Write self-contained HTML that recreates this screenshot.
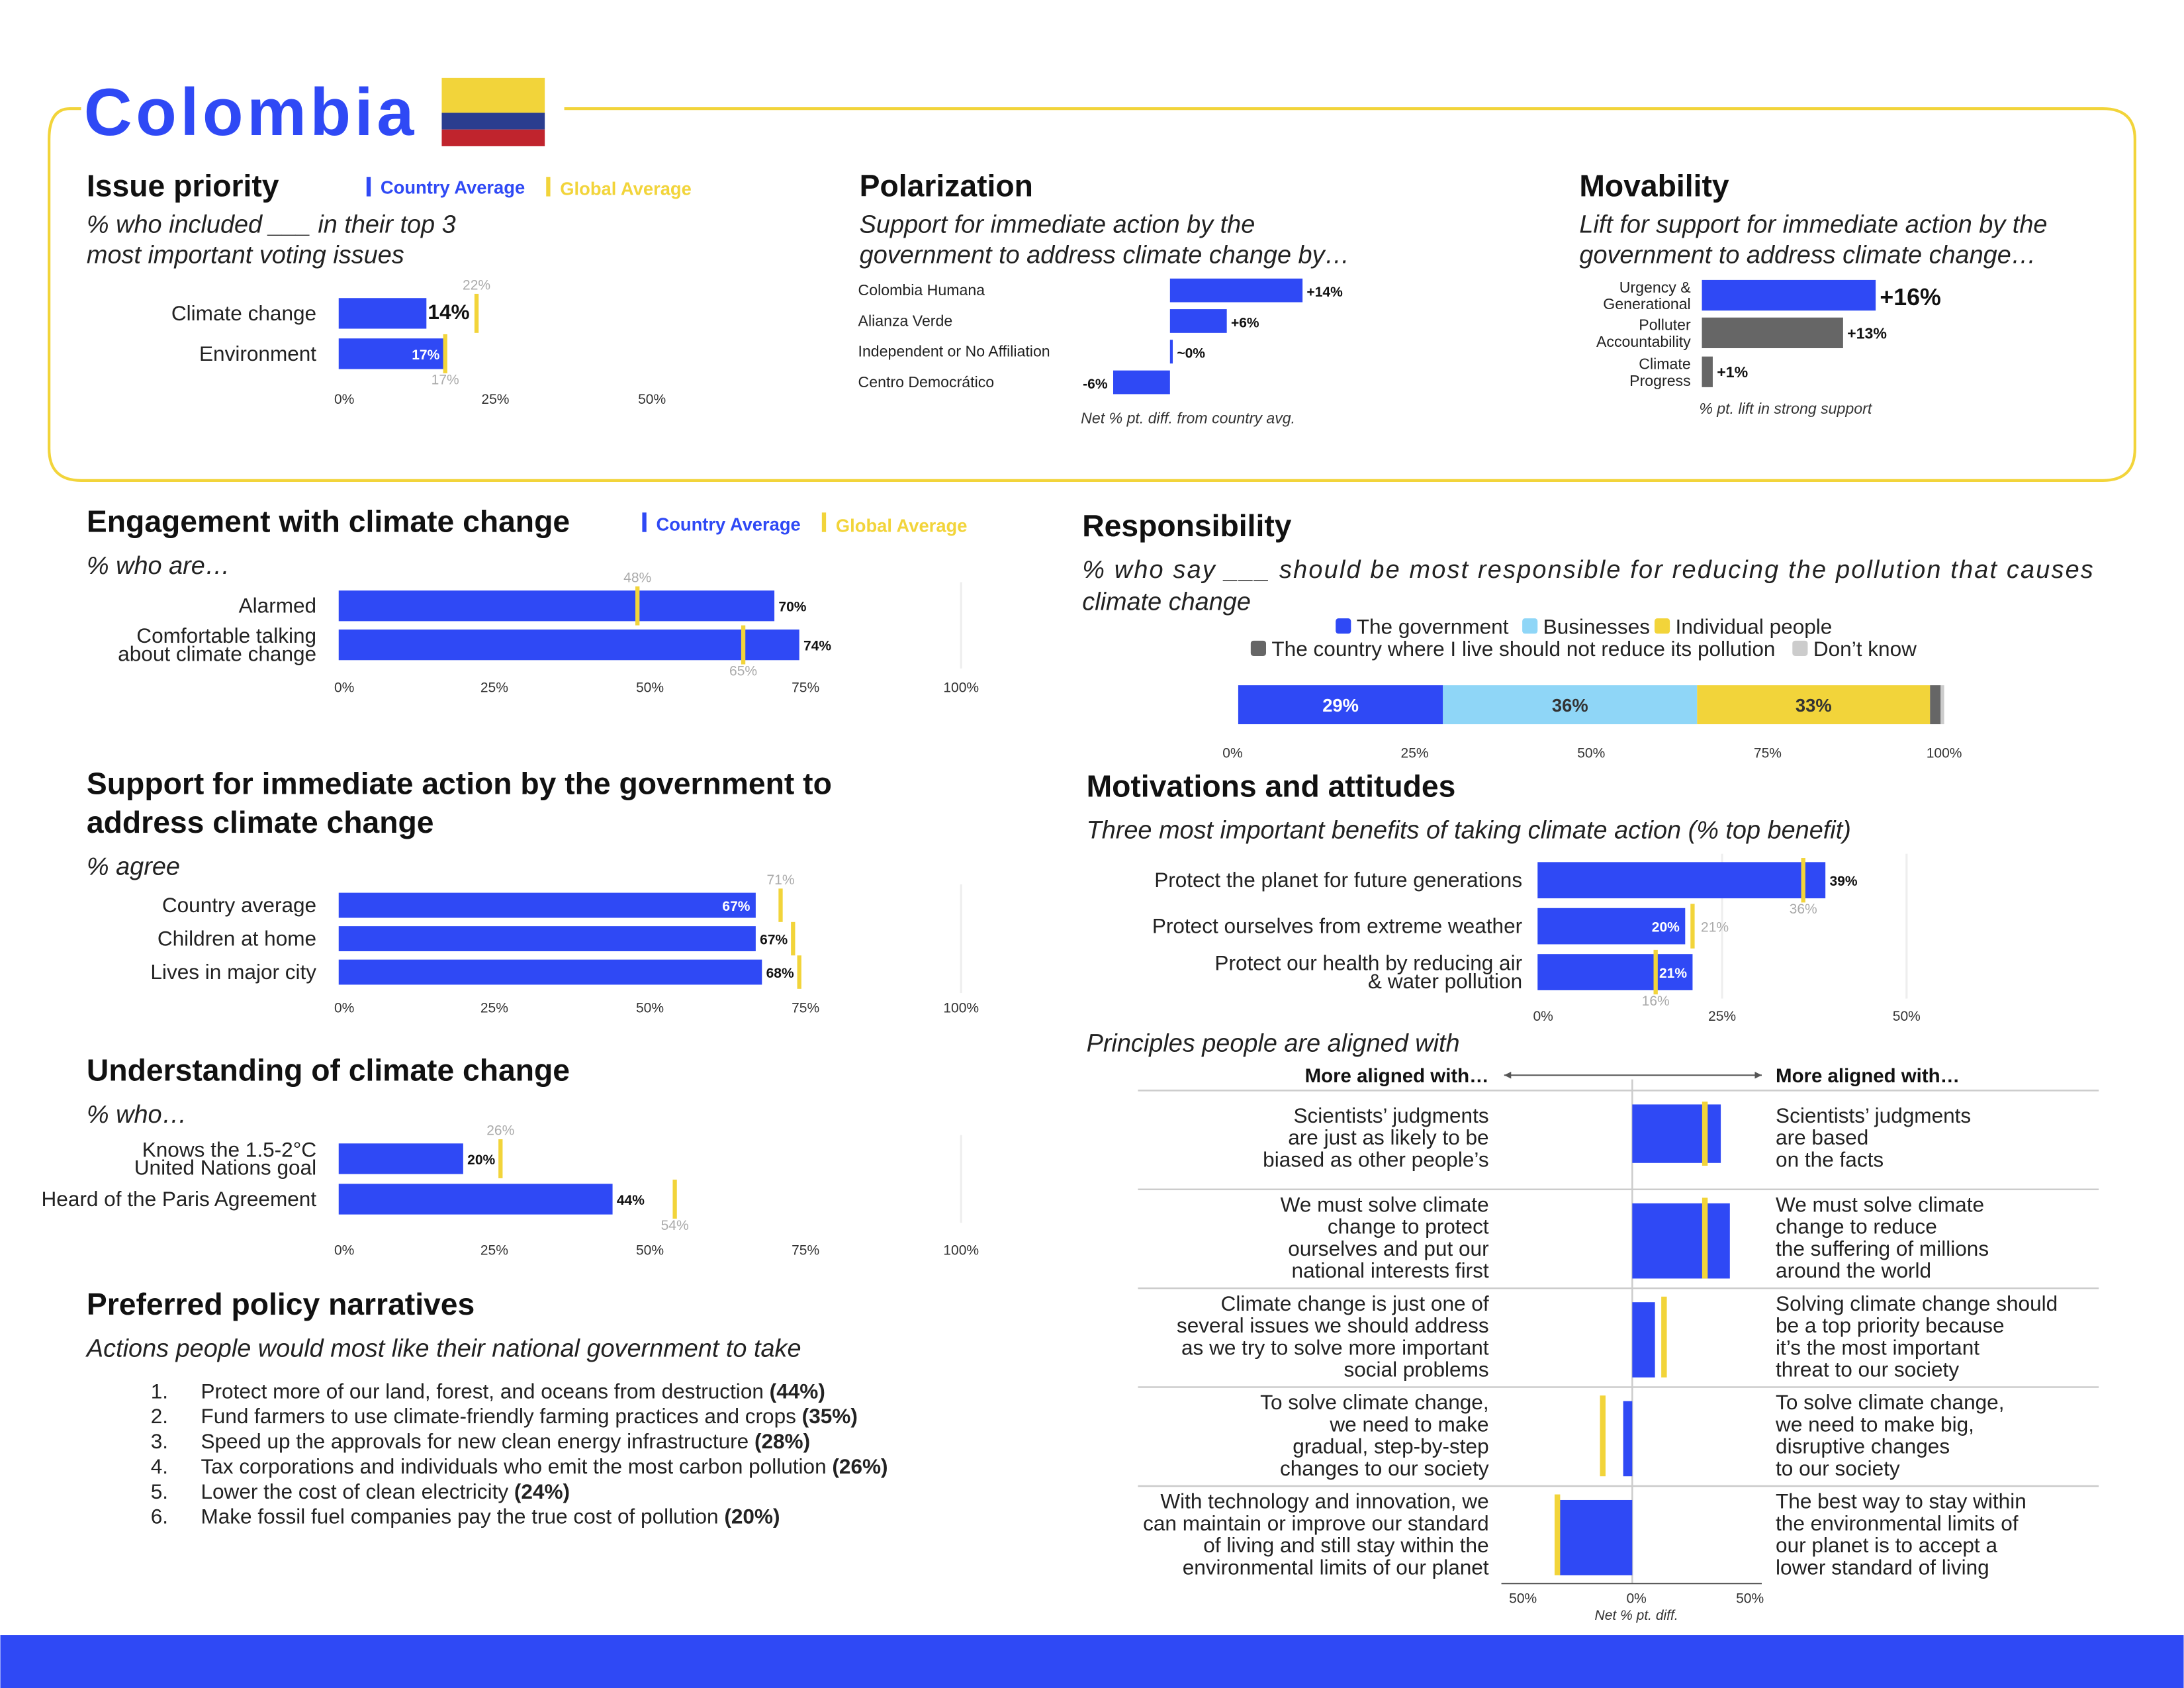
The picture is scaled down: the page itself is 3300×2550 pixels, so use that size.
<!DOCTYPE html>
<html><head><meta charset="utf-8">
<style>
html,body{margin:0;padding:0;background:#fff}
svg{display:block}
text{font-family:"Liberation Sans",sans-serif}
.h{font-weight:bold;font-size:22px;fill:#111}
.s{font-style:italic;font-size:18px;fill:#222}
.l{font-size:15px;fill:#222}
.t{font-size:10px;fill:#333}
.g{font-size:10px;fill:#aaa}
</style></head>
<body>
<svg id="c" width="3300" height="2550" viewBox="0 0 1568 1212" xmlns="http://www.w3.org/2000/svg">
<rect x="0" y="0" width="1568" height="1212" fill="#fff"/>
<path d="M58,78 L50,78 Q35,78 35,100 L35,322 Q35,345 58,345 L1510,345 Q1533,345 1533,322 L1533,100 Q1533,78 1510,78 L405,78" fill="none" stroke="#f2d43a" stroke-width="2"/>
<text x="60" y="97" font-size="48" font-weight="bold" fill="#2f49f5" textLength="237">Colombia</text>
<g><rect x="317" y="56" width="74" height="25" fill="#f2d43a"/><rect x="317" y="81" width="74" height="12" fill="#2a3d8f"/><rect x="317" y="93" width="74" height="12" fill="#c0242d"/></g>

<text class="h" x="62" y="141">Issue priority</text>
<g><rect x="263" y="127" width="3" height="14" fill="#2f49f5"/><text x="273" y="139" font-size="13" font-weight="bold" fill="#2f49f5">Country Average</text><rect x="392" y="127" width="3" height="14" fill="#f2d43a"/><text x="402" y="140" font-size="13" font-weight="bold" fill="#f2d43a">Global Average</text></g>
<text class="s" x="62" y="167">% who included ___ in their top 3</text>
<text class="s" x="62" y="189">most important voting issues</text>

<text class="h" x="617" y="141">Polarization</text>
<text class="s" x="617" y="167">Support for immediate action by the</text>
<text class="s" x="617" y="189">government to address climate change by…</text>
<text x="776" y="304" font-size="11" font-style="italic" fill="#333">Net % pt. diff. from country avg.</text>

<text class="h" x="1134" y="141">Movability</text>
<text class="s" x="1134" y="167">Lift for support for immediate action by the</text>
<text class="s" x="1134" y="189">government to address climate change…</text>
<text x="1220" y="297" font-size="11" font-style="italic" fill="#333">% pt. lift in strong support</text>

<text class="h" x="62" y="382">Engagement with climate change</text>
<g><rect x="461" y="368" width="3" height="14" fill="#2f49f5"/><text x="471" y="381" font-size="13" font-weight="bold" fill="#2f49f5">Country Average</text><rect x="590" y="368" width="3" height="14" fill="#f2d43a"/><text x="600" y="382" font-size="13" font-weight="bold" fill="#f2d43a">Global Average</text></g>
<text class="s" x="62" y="412">% who are…</text>

<text class="h" x="62" y="570">Support for immediate action by the government to</text>
<text class="h" x="62" y="598">address climate change</text>
<text class="s" x="62" y="628">% agree</text>

<text class="h" x="62" y="776">Understanding of climate change</text>
<text class="s" x="62" y="806">% who…</text>

<text class="h" x="62" y="944">Preferred policy narratives</text>
<text class="s" x="62" y="974">Actions people would most like their national government to take</text>
<g class="l">
<text x="108" y="1004">1.</text><text x="144" y="1004">Protect more of our land, forest, and oceans from destruction <tspan font-weight="bold">(44%)</tspan></text>
<text x="108" y="1022">2.</text><text x="144" y="1022">Fund farmers to use climate-friendly farming practices and crops <tspan font-weight="bold">(35%)</tspan></text>
<text x="108" y="1040">3.</text><text x="144" y="1040">Speed up the approvals for new clean energy infrastructure <tspan font-weight="bold">(28%)</tspan></text>
<text x="108" y="1058">4.</text><text x="144" y="1058">Tax corporations and individuals who emit the most carbon pollution <tspan font-weight="bold">(26%)</tspan></text>
<text x="108" y="1076">5.</text><text x="144" y="1076">Lower the cost of clean electricity <tspan font-weight="bold">(24%)</tspan></text>
<text x="108" y="1094">6.</text><text x="144" y="1094">Make fossil fuel companies pay the true cost of pollution <tspan font-weight="bold">(20%)</tspan></text>
</g>

<text class="h" x="777" y="385">Responsibility</text>
<text class="s" x="777" y="415" textLength="726">% who say ___ should be most responsible for reducing the pollution that causes</text>
<text class="s" x="777" y="438">climate change</text>
<g class="l">
<rect x="959" y="444" width="11" height="11" rx="2" fill="#2f49f5"/><text x="974" y="455">The government</text>
<rect x="1093" y="444" width="11" height="11" rx="2" fill="#8fd6f7"/><text x="1108" y="455">Businesses</text>
<rect x="1188" y="444" width="11" height="11" rx="2" fill="#f2d43a"/><text x="1203" y="455">Individual people</text>
<rect x="898" y="460" width="11" height="11" rx="2" fill="#666"/><text x="913" y="471">The country where I live should not reduce its pollution</text>
<rect x="1287" y="460" width="11" height="11" rx="2" fill="#ccc"/><text x="1302" y="471">Don’t know</text>
</g>

<text class="h" x="780" y="572">Motivations and attitudes</text>
<text class="s" x="780" y="602">Three most important benefits of taking climate action (% top benefit)</text>
<text class="s" x="780" y="755">Principles people are aligned with</text>

<rect x="0" y="1174" width="1568" height="38" fill="#2f49f5"/>
</svg>
<script>
const issueCats=["Climate change","Environment"];
const issueVals=[14,17];
const issueGlobal=[22,17];
const engCats=[["Alarmed"],["Comfortable talking","about climate change"]];
const engVals=[70,74];
const engGlobal=[48,65];
const supCats=["Country average","Children at home","Lives in major city"];
const supVals=[67,67,68];
const supGlobal=[71,73,74];
const undCats=[["Knows the 1.5-2°C","United Nations goal"],["Heard of the Paris Agreement"]];
const undVals=[20,44];
const undGlobal=[26,54];
const polCats=["Colombia Humana","Alianza Verde","Independent or No Affiliation","Centro Democrático"];
const polVals=[14,6,0,-6];
const movCats=[["Urgency &","Generational"],["Polluter","Accountability"],["Climate","Progress"]];
const movVals=[16,13,1];
const respCats=["The government","Businesses","Individual people","Should not reduce","Don't know"];
const respVals=[29,36,33,1.5,0.5];
const motCats=[["Protect the planet for future generations"],["Protect ourselves from extreme weather"],["Protect our health by reducing air","& water pollution"]];
const motVals=[39,20,21];
const motGlobal=[36,21,16];
const prinLeft=[["Scientists’ judgments","are just as likely to be","biased as other people’s"],["We must solve climate","change to protect","ourselves and put our","national interests first"],["Climate change is just one of","several issues we should address","as we try to solve more important","social problems"],["To solve climate change,","we need to make","gradual, step-by-step","changes to our society"],["With technology and innovation, we","can maintain or improve our standard","of living and still stay within the","environmental limits of our planet"]];
const prinRight=[["Scientists’ judgments","are based","on the facts"],["We must solve climate","change to reduce","the suffering of millions","around the world"],["Solving climate change should","be a top priority because","it’s the most important","threat to our society"],["To solve climate change,","we need to make big,","disruptive changes","to our society"],["The best way to stay within","the environmental limits of","our planet is to accept a","lower standard of living"]];
const prinVals=[39,43,10,-4,-32];
const prinGlobal=[32,32,14,-13,-33];

const NS="http://www.w3.org/2000/svg";
const svg=document.getElementById('c');
const BLUE="#2f49f5",YEL="#f2d43a";
function mk(tag,a,p){const e=document.createElementNS(NS,tag);for(const k in a)e.setAttribute(k,a[k]);(p||svg).appendChild(e);return e;}
function txt(x,y,s,a){const e=mk('text',Object.assign({x:x,y:y},a||{}));e.textContent=s;return e;}
function lines(x,y,arr,lh,a){arr.forEach((s,i)=>{const e=txt(x,y+i*lh,s,a);});}

function barChart(o){
  const sx=v=>o.x0+v*o.k;
  o.ticks.forEach(t=>{const e=txt(sx(t)+(t===0?4:0),o.tickY,t+"%",{'class':'t','text-anchor':'middle'});});
  if(o.grid){o.grid.forEach(t=>{const g=mk('line',{x1:sx(t),x2:sx(t),y1:o.rowY[0]-6,y2:o.rowY[o.rowY.length-1]+o.h+6,stroke:'#eee','stroke-width':1.5});});}
  o.vals.forEach((v,i)=>{
    const y=o.rowY[i];
    const c=Array.isArray(o.cats[i])?o.cats[i]:[o.cats[i]];
    lines(o.labelX,y+o.h/2+5-(c.length-1)*6.5,c,13,{'class':'l','text-anchor':'end'});
    const b=mk('rect',{x:o.x0,y:y,width:v*o.k,height:o.h,fill:BLUE});
    
    
    const g=mk('rect',{x:sx(o.glob[i])-1.5,y:y-3,width:3,height:o.h+6,fill:YEL});
    
    
    const inside=o.inside&&o.inside[i];
    const vl=txt(inside?sx(v)-4:sx(v)+(o.big&&o.big[i]?1:3),y+o.h/2+4,v+"%",{'font-size':o.big&&o.big[i]?15:10,'font-weight':'bold',fill:inside?'#fff':'#111','text-anchor':inside?'end':'start'});
    
    
    if(o.gpos&&o.gpos[i]){const p=o.gpos[i];const gy=p==='a'?y-6:p==='b'?y+o.h+11:y+o.h/2+4;const gx=p==='r'?sx(o.glob[i])+6:sx(o.glob[i]);
      const gl=txt(gx,gy,o.glob[i]+"%",{'class':'g','text-anchor':p==='r'?'start':'middle'});}
  });
}
barChart({x0:243,k:4.5,labelX:227,rowY:[214,243],h:22,cats:issueCats,vals:issueVals,glob:issueGlobal,ticks:[0,25,50],tickY:290,inside:[false,true],big:[true,false],gpos:['a','b']});
barChart({x0:243,k:4.47,labelX:227,rowY:[424,452],h:22,cats:engCats,vals:engVals,glob:engGlobal,ticks:[0,25,50,75,100],tickY:497,grid:[100],gpos:['a','b']});
barChart({x0:243,k:4.47,labelX:227,rowY:[641,665,689],h:18,cats:supCats,vals:supVals,glob:supGlobal,ticks:[0,25,50,75,100],tickY:727,grid:[100],inside:[true,false,false],gpos:['a',null,null]});
barChart({x0:243,k:4.47,labelX:227,rowY:[821,850],h:22,cats:undCats,vals:undVals,glob:undGlobal,ticks:[0,25,50,75,100],tickY:901,grid:[100],gpos:['a','b']});
barChart({x0:1104,k:5.3,labelX:1093,rowY:[619,652,685],h:26,cats:motCats,vals:motVals,glob:motGlobal,ticks:[0,25,50],tickY:733,grid:[25,50],inside:[false,true,true],gpos:['b','r','b']});

const pRow=[200,222,244,266];
polVals.forEach((v,i)=>{
  const y=pRow[i];
  const l=txt(616,y+12,polCats[i],{'font-size':11,fill:'#222'});
  const x=840+Math.min(0,v)*6.8,w=Math.max(Math.abs(v)*6.8,2);
  const b=mk('rect',{x:x,y:y,width:w,height:17,fill:BLUE});
  
  
  const s=(v>0?'+':v===0?'~':'')+v+'%';
  const vl=txt(v<0?x-4:x+w+3,y+13,s,{'font-size':10,'font-weight':'bold',fill:'#111','text-anchor':v<0?'end':'start'});
  
  
});
const mRow=[201,228,256];
movVals.forEach((v,i)=>{
  const y=mRow[i];
  lines(1214,y+9,movCats[i],12,{'font-size':11,fill:'#222','text-anchor':'end'});
  const b=mk('rect',{x:1222,y:y,width:v*7.8,height:22,fill:i===0?BLUE:'#666'});
  
  
  const vl=txt(1222+v*7.8+3,y+(i===0?18:15),'+'+v+'%',{'font-size':i===0?17:11,'font-weight':'bold',fill:'#111'});
  
  
});
const rCol=[BLUE,'#8fd6f7',YEL,'#666','#ccc'];
let acc=0;
respVals.forEach((v,i)=>{
  const x=889+acc*5.07;
  const b=mk('rect',{x:x,y:492,width:v*5.07,height:28,fill:rCol[i]});
  
  
  if(v>5){const t=txt(x+v*5.07/2,511,v+'%',{'font-size':13,'font-weight':'bold',fill:i===0?'#fff':'#333','text-anchor':'middle'});}
  acc+=v;
});
[0,25,50,75,100].forEach(t=>{const e=txt(889+t*5.07-(t===0?4:0),544,t+'%',{'class':'t','text-anchor':'middle'});});

const cx=1172,pk=1.63;
const a1=mk('line',{x1:1080,x2:1265,y1:772,y2:772,stroke:'#555','stroke-width':1});
const ah1=mk('path',{d:'M1080,772 l5,-2.5 v5 z M1265,772 l-5,-2.5 v5 z',fill:'#555'});
const hl=txt(1069,777,'More aligned with…',{'font-size':14,'font-weight':'bold',fill:'#111','text-anchor':'end'});
const hr=txt(1275,777,'More aligned with…',{'font-size':14,'font-weight':'bold',fill:'#111'});
const seps=[783,854,925,996,1067];
seps.forEach(y=>{const l=mk('line',{x1:817,x2:1507,y1:y,y2:y,stroke:'#ccc','stroke-width':1.2});});
const zl=mk('line',{x1:cx,x2:cx,y1:775,y2:1137,stroke:'#ccc','stroke-width':1.2});
const bl=mk('line',{x1:1078,x2:1265,y1:1137,y2:1137,stroke:'#555','stroke-width':1});
prinVals.forEach((v,i)=>{
  const top=seps[i]+10,h=i===0?42:54,ty=i===0?top-2:top-4;
  const ll=prinLeft[i].length;
  lines(1069,seps[i]+(ll===3?23:16),prinLeft[i],15.8,{'class':'l','text-anchor':'end'});
  lines(1275,seps[i]+(prinRight[i].length===3?23:16),prinRight[i],15.8,{'class':'l'});
  const x=cx+Math.min(0,v)*pk;
  const b=mk('rect',{x:x,y:top,width:Math.abs(v)*pk,height:h,fill:BLUE});
  
  
  const g=mk('rect',{x:cx+prinGlobal[i]*pk-2,y:ty,width:4,height:h+4,fill:YEL});
  
  
});
[[-50,'50%'],[0,'0%'],[50,'50%']].forEach(t=>{const e=txt(cx+t[0]*pk+3,1151,t[1],{'class':'t','text-anchor':'middle'});});
const nc=txt(1175,1163,'Net % pt. diff.',{'font-size':10,'font-style':'italic',fill:'#333','text-anchor':'middle'});
</script>
</body></html>
